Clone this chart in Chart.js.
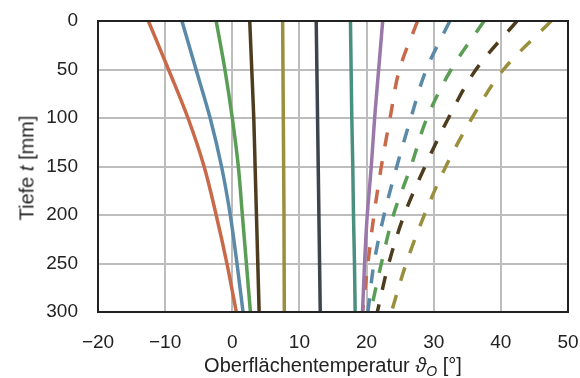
<!DOCTYPE html>
<html>
<head>
<meta charset="utf-8">
<script src="https://cdn.jsdelivr.net/npm/chart.js@4"></script>
<style>
    body { margin: 0; background: #fff; }
    #wrap { position: relative; width: 580px; height: 378px; font-family: "Liberation Sans", Arial, sans-serif; color: #222; }
    #chart { position: absolute; left: 0; top: 0; }
    .ytitle { position: absolute; left: 27px; top: 168px; transform: translate(-50%, -50%) rotate(-90deg); font-size: 20px; white-space: nowrap; }
    .xtitle { position: absolute; left: 333px; top: 366px; transform: translate(-50%, -50%); font-size: 20px; white-space: nowrap; }
    .xtitle sub { font-size: 14px; font-style: italic; vertical-align: -4px; }
</style>
</head>
<body>
<div id="wrap">
    <canvas id="chart" width="580" height="378"></canvas>
    <div class="ytitle">Tiefe <i>t</i> [mm]</div>
    <div class="xtitle">Oberflächentemperatur <i>ϑ</i><sub>O</sub> [°]</div>
</div>
<script>
// Depth levels (mm)
const depths = [0, 50, 100, 150, 200, 250, 300];

// Solid profiles (temperature at each depth)
const solidOrange = [-12.5, -9.5, -6.6, -4.2, -2.4, -0.8, 0.6];
const solidBlue   = [-7.5, -5.4, -3.3, -1.6, -0.3, 0.7, 1.6];
const solidGreen  = [-2.4, -1.1, 0.0, 0.9, 1.5, 2.1, 2.7];
const solidBrown  = [2.6, 2.9, 3.2, 3.4, 3.6, 3.8, 4.0];
const solidOlive  = [7.5, 7.55, 7.6, 7.65, 7.7, 7.72, 7.75];
const solidSlate  = [12.5, 12.6, 12.7, 12.8, 12.9, 13.0, 13.1];
const solidTeal   = [17.6, 17.7, 17.8, 17.95, 18.05, 18.2, 18.3];
const solidPurple = [22.4, 21.8, 21.2, 20.7, 20.1, 19.7, 19.4];

// Dashed profiles
const dashOrange = [27.6, 24.9, 23.5, 22.2, 21.1, 20.2, 19.4];
const dashBlue   = [32.4, 28.9, 26.6, 24.5, 22.6, 21.1, 20.2];
const dashGreen  = [37.5, 32.6, 29.0, 26.6, 24.0, 22.2, 20.6];
const dashBrown  = [42.4, 36.3, 32.2, 28.7, 25.6, 23.3, 21.6];
const dashOlive  = [47.5, 40.4, 35.7, 31.8, 28.6, 25.9, 23.7];

const xTicks = [-20, -10, 0, 10, 20, 30, 40, 50];

const series = [
    { values: solidOrange, color: '#c8694a', dashed: false },
    { values: solidBlue,   color: '#5a8aa8', dashed: false },
    { values: solidGreen,  color: '#5a9e55', dashed: false },
    { values: solidBrown,  color: '#4e3c1e', dashed: false },
    { values: solidOlive,  color: '#9a8f3c', dashed: false },
    { values: solidSlate,  color: '#3c444e', dashed: false },
    { values: solidTeal,   color: '#4a9080', dashed: false },
    { values: solidPurple, color: '#9a78aa', dashed: false },
    { values: dashOrange,  color: '#c8694a', dashed: true },
    { values: dashBlue,    color: '#5a8aa8', dashed: true },
    { values: dashGreen,   color: '#5a9e55', dashed: true },
    { values: dashBrown,   color: '#4e3c1e', dashed: true },
    { values: dashOlive,   color: '#9a8f3c', dashed: true }
];

const datasets = series.map(s => ({
    data: depths.map((d, i) => ({ x: s.values[i], y: d })),
    borderColor: s.color,
    borderWidth: 3.5,
    borderDash: s.dashed ? [14, 15] : [],
    pointRadius: 0,
    fill: false,
    cubicInterpolationMode: 'monotone'
}));

// Frame around plot area
const framePlugin = {
    id: 'frame',
    afterDatasetsDraw(chart) {
        const { ctx, chartArea: a } = chart;
        ctx.save();
        ctx.strokeStyle = '#222';
        ctx.lineWidth = 2;
        ctx.strokeRect(a.left, a.top, a.right - a.left, a.bottom - a.top);
        ctx.restore();
    }
};

const tickFont = { family: '"Liberation Sans", Arial, sans-serif', size: 19 };

new Chart(document.getElementById('chart').getContext('2d'), {
    type: 'line',
    data: { datasets },
    plugins: [framePlugin],
    options: {
        responsive: false,
        animation: false,
        indexAxis: 'y',
        layout: { padding: { left: 0, top: 21, right: 12, bottom: 0 } },
        plugins: { legend: { display: false }, tooltip: { enabled: false } },
        scales: {
            x: {
                type: 'linear',
                position: 'bottom',
                min: -20,
                max: 50,
                afterBuildTicks: axis => { axis.ticks = xTicks.map(v => ({ value: v })); },
                afterFit: axis => {
                    axis.height = 66;
                    axis.paddingLeft = 0;
                    axis.paddingRight = 0;
                },
                grid: { color: '#bdbdbd', lineWidth: 2, drawTicks: false },
                border: { display: false },
                ticks: {
                    color: '#222',
                    font: tickFont,
                    padding: 19,
                    callback: v => String(v).replace('-', '\u2212')
                }
            },
            y: {
                type: 'linear',
                reverse: true,
                min: 0,
                max: 300,
                afterFit: axis => {
                    axis.width = 98;
                    axis.paddingTop = 0;
                    axis.paddingBottom = 0;
                },
                grid: { color: '#bdbdbd', lineWidth: 2, drawTicks: false },
                border: { display: false },
                ticks: {
                    stepSize: 50,
                    color: '#222',
                    font: tickFont,
                    padding: 20
                }
            }
        }
    }
});
</script>
</body>
</html>
